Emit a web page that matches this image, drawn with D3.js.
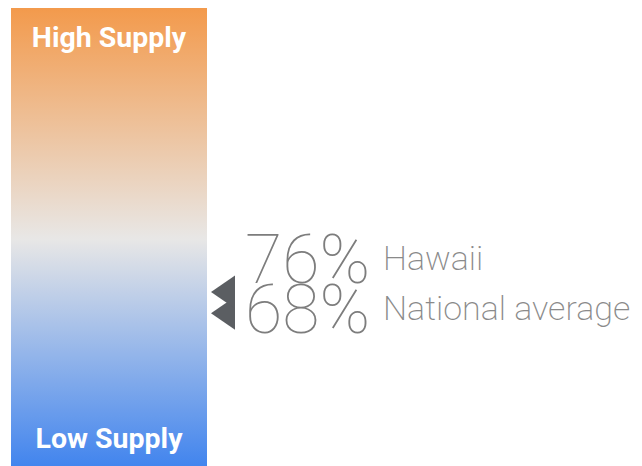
<!DOCTYPE html>
<html>
<head>
<meta charset="utf-8">
<script src="https://cdn.jsdelivr.net/npm/d3@7"></script>
<style>
  html, body { margin: 0; padding: 0; background: #ffffff; overflow: hidden; }
</style>
</head>
<body>
<div id="chart"></div>
<script>
const WIDTH = 642;
const HEIGHT = 466;

// Values shown next to the scale.
const labels = ["Hawaii", "National average"];
const values = [76, 68];
const scaleEnds = ["High Supply", "Low Supply"];
const gradientColors = ["#f39a4c", "#e8e7e6", "#3f83ee"];

const svg = d3.select("#chart")
    .append("svg")
    .attr("width", WIDTH)
    .attr("height", HEIGHT);

const bar = { x: 11, y: 8, w: 196, h: 462 };

// Supply scale: values map onto the vertical bar.
const y = d3.scaleLinear()
    .domain([0, 100])
    .range([492, 229]);

const grad = svg.append("defs")
    .append("linearGradient")
    .attr("id", "supply-grad")
    .attr("x1", 0).attr("y1", 0)
    .attr("x2", 0).attr("y2", 1);

grad.selectAll("stop")
    .data(gradientColors)
    .join("stop")
    .attr("offset", (d, i) => `${i * 50}%`)
    .attr("stop-color", d => d);

svg.append("rect")
    .attr("x", bar.x)
    .attr("y", bar.y)
    .attr("width", bar.w)
    .attr("height", bar.h)
    .attr("fill", "url(#supply-grad)");

svg.selectAll("text.end")
    .data(scaleEnds)
    .join("text")
    .attr("class", "end")
    .attr("x", bar.x + bar.w / 2)
    .attr("y", (d, i) => i === 0 ? 47 : 448)
    .attr("text-anchor", "middle")
    .style("font-family", "Roboto, sans-serif")
    .style("font-size", "28.5px")
    .style("font-weight", "700")
    .style("fill", "#ffffff")
    .text(d => d);

// Left-pointing markers, drawn bottom first so the upper one sits on top.
const markerW = 24, markerH = 33;
svg.selectAll("path.marker")
    .data(values.slice().reverse())
    .join("path")
    .attr("class", "marker")
    .attr("d", d => {
        const cy = y(d), tipX = 211;
        return `M${tipX},${cy} L${tipX + markerW},${cy - markerH / 2} L${tipX + markerW},${cy + markerH / 2} Z`;
    })
    .attr("fill", "#5b5e62");

// Big thin percentages with their labels.
const rowBase = [283, 333];
const rows = svg.selectAll("g.row")
    .data(values)
    .join("g")
    .attr("class", "row");

rows.append("text")
    .attr("x", 245)
    .attr("y", (d, i) => rowBase[i])
    .style("font-family", "Roboto, sans-serif")
    .style("font-size", "68px")
    .style("font-weight", "100")
    .style("fill", "#7d7d7d")
    .text(d => `${d}%`);

rows.append("text")
    .attr("x", 383)
    .attr("y", (d, i) => rowBase[i] - 13)
    .style("font-family", "Roboto, sans-serif")
    .style("font-size", "34px")
    .style("font-weight", "200")
    .style("fill", "#8a8a8a")
    .text((d, i) => labels[i]);
</script>
</body>
</html>
